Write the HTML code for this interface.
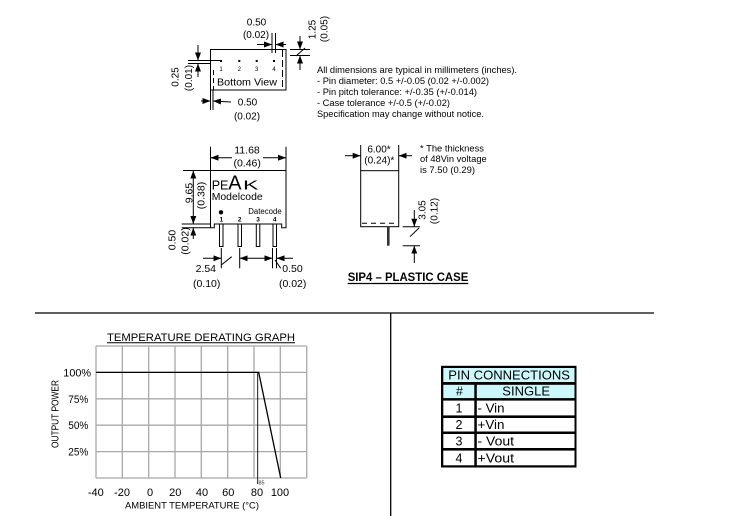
<!DOCTYPE html>
<html><head><meta charset="utf-8"><style>
html,body{margin:0;padding:0;background:#fff;}
svg{display:block;font-family:"Liberation Sans",Arial,sans-serif;}
</style></head><body>
<svg width="729" height="516" viewBox="0 0 729 516" xmlns="http://www.w3.org/2000/svg">
<defs>
<marker id="a" viewBox="0 0 8 6" refX="8" refY="3" markerWidth="8" markerHeight="6" markerUnits="userSpaceOnUse" orient="auto"><path d="M0,0L8,3L0,6z" fill="#000"/></marker>
</defs>
<rect width="729" height="516" fill="#fff"/>

<!-- ============ BOTTOM VIEW ============ -->
<g stroke="#000" stroke-width="1" fill="none">
 <rect x="210.5" y="49.5" width="75.5" height="40.5"/>
 <line x1="213.5" y1="70" x2="213.5" y2="90" stroke-dasharray="5,3"/>
 <line x1="282.5" y1="50" x2="282.5" y2="90" stroke-dasharray="7,3"/>
 <line x1="272" y1="33" x2="272" y2="53"/>
 <line x1="275.5" y1="33" x2="275.5" y2="53"/>
 <line x1="257" y1="44.5" x2="272" y2="44.5" marker-end="url(#a)"/>
 <line x1="286" y1="44.5" x2="275.5" y2="44.5" marker-end="url(#a)"/>
 <line x1="290" y1="49.5" x2="310" y2="49.5"/>
 <line x1="290" y1="55.5" x2="310" y2="55.5"/>
 <line x1="300" y1="36" x2="300" y2="49.5" marker-end="url(#a)"/>
 <line x1="300" y1="70" x2="300" y2="55.5" marker-end="url(#a)"/>
 <line x1="296" y1="56" x2="305" y2="48"/>
 <line x1="188" y1="60.5" x2="221" y2="60.5"/>
 <line x1="188" y1="63.5" x2="210" y2="63.5"/>
 <line x1="198" y1="45" x2="198" y2="60.5" marker-end="url(#a)"/>
 <line x1="198" y1="77" x2="198" y2="63.5" marker-end="url(#a)"/>
 <line x1="210.5" y1="90" x2="210.5" y2="110"/>
 <line x1="213" y1="90" x2="213" y2="110"/>
 <line x1="201" y1="101" x2="210.5" y2="101" marker-end="url(#a)"/>
 <line x1="231" y1="102" x2="213" y2="101" marker-end="url(#a)"/>
</g>
<g fill="#000">
 <rect x="220" y="60" width="2" height="2"/>
 <rect x="238.3" y="60" width="2" height="2"/>
 <rect x="255.7" y="60" width="2" height="2"/>
 <rect x="273" y="60" width="2" height="2"/>
</g>
<g font-size="6" text-anchor="middle" fill="#000">
 <text x="221" y="71">1</text><text x="239.3" y="71">2</text><text x="256.7" y="71">3</text><text x="274" y="71">4</text>
</g>
<text x="217" y="85.4" font-size="10.5" textLength="60" lengthAdjust="spacingAndGlyphs">Bottom View</text>
<g font-size="10" text-anchor="middle">
 <text x="256.5" y="25.3">0.50</text>
 <text x="256" y="37.9">(0.02)</text>
 <text x="247.5" y="105.3">0.50</text>
 <text x="247" y="119.6">(0.02)</text>
 <text transform="translate(315.3,29.5) rotate(-90)">1.25</text>
 <text transform="translate(327.6,29) rotate(-90)">(0.05)</text>
 <text transform="translate(178.6,77) rotate(-90)">0.25</text>
 <text transform="translate(191.9,78) rotate(-90)">(0.01)</text>
</g>

<!-- ============ NOTES ============ -->
<g font-size="9">
 <text x="317" y="73.2" textLength="200" lengthAdjust="spacingAndGlyphs">All dimensions are typical in millimeters (inches).</text>
 <text x="317" y="84.2" textLength="172" lengthAdjust="spacingAndGlyphs">- Pin diameter: 0.5 +/-0.05 (0.02 +/-0.002)</text>
 <text x="317" y="95.2" textLength="160" lengthAdjust="spacingAndGlyphs">- Pin pitch tolerance: +/-0.35 (+/-0.014)</text>
 <text x="317" y="106.2" textLength="133" lengthAdjust="spacingAndGlyphs">- Case tolerance +/-0.5 (+/-0.02)</text>
 <text x="317" y="117.2" textLength="167" lengthAdjust="spacingAndGlyphs">Specification may change without notice.</text>
</g>

<!-- ============ FRONT VIEW ============ -->
<g stroke="#000" stroke-width="1" fill="none">
 <path d="M210.5,170.5 L286,170.5 L286,227.7 L281.7,227.7 L281.7,224 L214.3,224 L214.3,227.7 L210.5,227.7 Z" fill="#fff"/>
 <rect x="219.5" y="224" width="3.5" height="22.5" fill="#fff"/>
 <rect x="238" y="224" width="3.5" height="22.5" fill="#fff"/>
 <rect x="256.3" y="224" width="3.5" height="22.5" fill="#fff"/>
 <rect x="273" y="224" width="3.5" height="22.5" fill="#fff"/>
 <line x1="210.5" y1="146.7" x2="210.5" y2="170"/>
 <line x1="286" y1="146.7" x2="286" y2="170"/>
 <line x1="232" y1="157.7" x2="210.5" y2="157.7" marker-end="url(#a)"/>
 <line x1="263" y1="157.7" x2="286" y2="157.7" marker-end="url(#a)"/>
 <line x1="183" y1="170.5" x2="210" y2="170.5"/>
 <line x1="181.7" y1="224" x2="210" y2="224"/>
 <line x1="181.7" y1="227.7" x2="210" y2="227.7"/>
 <line x1="193.3" y1="197" x2="193.3" y2="170.5" marker-end="url(#a)"/>
 <line x1="193.3" y1="197" x2="193.3" y2="224" marker-end="url(#a)"/>
 <line x1="193.3" y1="239" x2="193.3" y2="227.7" marker-end="url(#a)"/>
 <line x1="221.3" y1="248" x2="221.3" y2="268.3"/>
 <line x1="239.7" y1="248" x2="239.7" y2="268.3"/>
 <line x1="272.5" y1="248" x2="272.5" y2="268.3"/>
 <line x1="276.5" y1="248" x2="276.5" y2="268.3"/>
 <line x1="203" y1="258.3" x2="221.3" y2="258.3" marker-end="url(#a)"/>
 <line x1="256" y1="258.3" x2="239.7" y2="258.3" marker-end="url(#a)"/>
 <line x1="256" y1="258.3" x2="272.5" y2="258.3" marker-end="url(#a)"/>
 <line x1="293" y1="258.3" x2="276.5" y2="258.3" marker-end="url(#a)"/>
 <line x1="221.3" y1="265" x2="231.7" y2="256.7"/>
 <line x1="275" y1="260" x2="280.7" y2="268.3"/>
</g>
<text x="211.7" y="189.3" font-size="12.5" textLength="16.7" lengthAdjust="spacingAndGlyphs">PE</text>
<text x="228.3" y="189.5" font-size="20" textLength="13.3" lengthAdjust="spacingAndGlyphs">A</text>
<text x="243" y="189.3" font-size="12.5" textLength="15.5" lengthAdjust="spacingAndGlyphs">K</text>
<text x="211.7" y="200.2" font-size="10.5" textLength="51" lengthAdjust="spacingAndGlyphs">Modelcode</text>
<circle cx="221" cy="212.3" r="2.2" fill="#000"/>
<text x="248.3" y="213.8" font-size="7.8" textLength="33.4" lengthAdjust="spacingAndGlyphs">Datecode</text>
<g font-size="6.5" text-anchor="middle" font-weight="bold">
 <text x="221.3" y="221.5">1</text><text x="239.7" y="221.5">2</text><text x="258" y="221.5">3</text><text x="274.7" y="221.5">4</text>
</g>
<g font-size="10.5" text-anchor="middle">
 <text x="247" y="153.7">11.68</text>
 <text x="247.2" y="166.4">(0.46)</text>
 <text x="205.8" y="272">2.54</text>
 <text x="206.7" y="287">(0.10)</text>
 <text x="292.5" y="272">0.50</text>
 <text x="292.7" y="287">(0.02)</text>
 <text transform="translate(192.7,193) rotate(-90)">9.65</text>
 <text transform="translate(204.7,195.5) rotate(-90)">(0.38)</text>
 <text transform="translate(175.3,240) rotate(-90)">0.50</text>
 <text transform="translate(188.6,241) rotate(-90)">(0.02)</text>
</g>

<!-- ============ SIP4 SIDE VIEW ============ -->
<g stroke="#000" stroke-width="1" fill="none">
 <rect x="360.7" y="170.7" width="38" height="56"/>
 <line x1="362" y1="223.3" x2="398" y2="223.3" stroke-dasharray="5,4"/>
 <line x1="360.7" y1="145" x2="360.7" y2="170.7"/>
 <line x1="398.7" y1="145" x2="398.7" y2="170.7"/>
 <line x1="345" y1="155.7" x2="360.7" y2="155.7" marker-end="url(#a)"/>
 <line x1="412" y1="155.7" x2="398.7" y2="155.7" marker-end="url(#a)"/>
 <line x1="402.7" y1="226.7" x2="420" y2="226.7"/>
 <line x1="402.7" y1="245.7" x2="420" y2="245.7"/>
 <line x1="414.3" y1="210" x2="414.3" y2="226.7" marker-end="url(#a)"/>
 <line x1="414.3" y1="263" x2="414.3" y2="245.7" marker-end="url(#a)"/>
 <line x1="410" y1="236.7" x2="419" y2="228"/>
</g>
<rect x="387" y="226.7" width="2.6" height="19" fill="#333"/>
<g font-size="10" text-anchor="middle">
 <text x="379" y="152.6">6.00*</text>
 <text x="379.3" y="163.6">(0.24)*</text>
 <text transform="translate(425.6,210) rotate(-90)">3.05</text>
 <text transform="translate(437.6,211) rotate(-90)">(0.12)</text>
</g>
<g font-size="9">
 <text x="420" y="151.4" textLength="64" lengthAdjust="spacingAndGlyphs">* The thickness</text>
 <text x="420" y="162.1" textLength="66.7" lengthAdjust="spacingAndGlyphs">of 48Vin voltage</text>
 <text x="420" y="172.8" textLength="55" lengthAdjust="spacingAndGlyphs">is 7.50 (0.29)</text>
</g>
<text x="347.7" y="281" font-size="12" font-weight="bold" textLength="120.6" lengthAdjust="spacingAndGlyphs">SIP4 – PLASTIC CASE</text>
<line x1="347.7" y1="283.5" x2="468.3" y2="283.5" stroke="#000" stroke-width="1.2"/>

<!-- ============ SEPARATORS ============ -->
<line x1="35" y1="313" x2="654" y2="313" stroke="#000" stroke-width="1.3"/>
<line x1="390.7" y1="313" x2="390.7" y2="516" stroke="#000" stroke-width="1.3"/>

<!-- ============ GRAPH ============ -->
<text x="107" y="341" font-size="11" textLength="188" lengthAdjust="spacingAndGlyphs">TEMPERATURE DERATING GRAPH</text>
<line x1="107" y1="342.8" x2="295" y2="342.8" stroke="#000" stroke-width="1"/>
<g stroke="#a8a8a8" stroke-width="1.3">
 <line x1="96" y1="346" x2="96" y2="478"/>
 <line x1="122.3" y1="346" x2="122.3" y2="478"/>
 <line x1="148.7" y1="346" x2="148.7" y2="478"/>
 <line x1="175" y1="346" x2="175" y2="478"/>
 <line x1="201.3" y1="346" x2="201.3" y2="478"/>
 <line x1="227.7" y1="346" x2="227.7" y2="478"/>
 <line x1="254" y1="346" x2="254" y2="478"/>
 <line x1="280.3" y1="346" x2="280.3" y2="478"/>
 <line x1="306.7" y1="346" x2="306.7" y2="478"/>
 <line x1="96" y1="346" x2="306.7" y2="346"/>
 <line x1="96" y1="372.4" x2="306.7" y2="372.4"/>
 <line x1="96" y1="398.8" x2="306.7" y2="398.8"/>
 <line x1="96" y1="425.2" x2="306.7" y2="425.2"/>
 <line x1="96" y1="451.6" x2="306.7" y2="451.6"/>
 <line x1="96" y1="478" x2="306.7" y2="478"/>
</g>
<polyline points="96,372.4 258.7,372.4 280.7,478" fill="none" stroke="#000" stroke-width="1.3"/>
<line x1="257.7" y1="372.4" x2="257.7" y2="484" stroke="#000" stroke-width="0.9"/>
<text x="258.5" y="484.5" font-size="5.5" fill="#333">85</text>
<g font-size="11">
 <text x="63.3" y="376.3" textLength="27.7" lengthAdjust="spacingAndGlyphs">100%</text>
 <text x="68.3" y="402.9" textLength="20" lengthAdjust="spacingAndGlyphs">75%</text>
 <text x="68.3" y="429.2" textLength="20" lengthAdjust="spacingAndGlyphs">50%</text>
 <text x="68.3" y="455.3" textLength="20" lengthAdjust="spacingAndGlyphs">25%</text>
</g>
<text transform="translate(58.6,414) rotate(-90)" font-size="10" text-anchor="middle" textLength="68" lengthAdjust="spacingAndGlyphs">OUTPUT POWER</text>
<g font-size="11" text-anchor="middle">
 <text x="95.8" y="496.2">-40</text>
 <text x="122" y="496.2">-20</text>
 <text x="150" y="496.2">0</text>
 <text x="175.3" y="496.2">20</text>
 <text x="202" y="496.2">40</text>
 <text x="228.3" y="496.2">60</text>
 <text x="257" y="496.2">80</text>
 <text x="280" y="496.2">100</text>
</g>
<text x="125" y="508.4" font-size="9.5" textLength="134" lengthAdjust="spacingAndGlyphs">AMBIENT TEMPERATURE (°C)</text>

<!-- ============ PIN TABLE ============ -->
<rect x="441" y="365.8" width="135.5" height="101.7" fill="#000"/>
<rect x="443.3" y="368" width="131.2" height="14" fill="#ccf8fb"/>
<rect x="443.3" y="384.8" width="31" height="13.3" fill="#ccf8fb"/>
<rect x="476.8" y="384.8" width="97.7" height="13.3" fill="#ccf8fb"/>
<rect x="443.3" y="400.6" width="31" height="14.8" fill="#fff"/>
<rect x="476.8" y="400.6" width="97.7" height="14.8" fill="#fff"/>
<rect x="443.3" y="418" width="31" height="13.5" fill="#fff"/>
<rect x="476.8" y="418" width="97.7" height="13.5" fill="#fff"/>
<rect x="443.3" y="434" width="31" height="14" fill="#fff"/>
<rect x="476.8" y="434" width="97.7" height="14" fill="#fff"/>
<rect x="443.3" y="450.6" width="31" height="14.7" fill="#fff"/>
<rect x="476.8" y="450.6" width="97.7" height="14.7" fill="#fff"/>
<g font-size="12.5">
 <text x="448.3" y="379.5" textLength="121.7" lengthAdjust="spacingAndGlyphs">PIN CONNECTIONS</text>
 <text x="459.5" y="395.5" text-anchor="middle">#</text>
 <text x="502.3" y="395.5" textLength="47.7" lengthAdjust="spacingAndGlyphs">SINGLE</text>
 <text x="459" y="412.4" text-anchor="middle">1</text>
 <text x="459" y="429" text-anchor="middle">2</text>
 <text x="459" y="445.4" text-anchor="middle">3</text>
 <text x="459" y="462.4" text-anchor="middle">4</text>
 <text x="477.5" y="412.4" textLength="27" lengthAdjust="spacingAndGlyphs">- Vin</text>
 <text x="477.5" y="429" textLength="27" lengthAdjust="spacingAndGlyphs">+Vin</text>
 <text x="477.5" y="445.4" textLength="36.5" lengthAdjust="spacingAndGlyphs">- Vout</text>
 <text x="477.5" y="462.4" textLength="36.5" lengthAdjust="spacingAndGlyphs">+Vout</text>
</g>
</svg>
</body></html>
